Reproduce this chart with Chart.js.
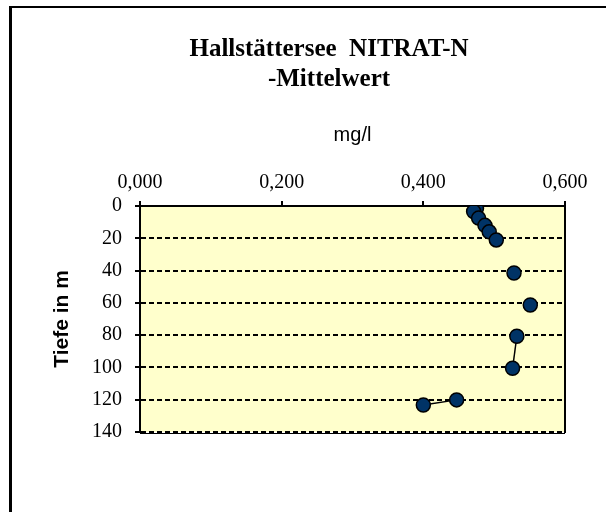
<!DOCTYPE html>
<html><head><meta charset="utf-8">
<script src="https://cdn.jsdelivr.net/npm/chart.js@4.4.1/dist/chart.umd.min.js"></script>
<style>
html,body{margin:0;padding:0;background:#fff;}
#wrap{position:relative;width:606px;height:512px;overflow:hidden;}
#frame{position:absolute;left:9px;top:6px;width:700px;height:600px;border-top:2px solid #000;border-left:3px solid #000;}
#c{position:absolute;left:0;top:0;}
</style></head><body>
<div id="wrap"><div id="frame"></div><canvas id="c" width="606" height="512"></canvas></div>
<script>
// Data
const nitrateMgL = [0.475, 0.471, 0.478, 0.487, 0.493, 0.503, 0.528, 0.551, 0.532, 0.526, 0.447, 0.400];
const depthM     = [1.5, 3.4, 7.5, 12, 16, 21, 41.5, 61.3, 80.7, 100.5, 120.1, 123.3];
const lineGroup  = [0, 0, 0, 0, 0, 0, 1, 2, 3, 3, 4, 4];
const xTickValues = [0, 0.2, 0.4, 0.6];
const yTickValues = [0, 20, 40, 60, 80, 100, 120, 140];
const titleLines = ['Hallstättersee  NITRAT-N', '-Mittelwert'];
const xAxisTitle = 'mg/l';
const yAxisTitle = 'Tiefe in m';

const points = nitrateMgL.map((v, i) => ({x: v, y: depthM[i]}));

const plotFrame = {
  id: 'plotFrame',
  beforeDraw(chart) {
    const {ctx, chartArea: a} = chart;
    ctx.save();
    ctx.fillStyle = '#FFFFCC';
    ctx.fillRect(a.left, a.top, a.right - a.left, a.bottom - a.top);
    ctx.restore();
  },
  beforeDatasetsDraw(chart) {
    const {ctx, chartArea: a} = chart;
    ctx.save();
    ctx.strokeStyle = '#000';
    ctx.lineWidth = 2;
    ctx.beginPath();
    ctx.moveTo(a.right, a.top);
    ctx.lineTo(a.right, a.bottom + 1);
    ctx.stroke();
    ctx.lineWidth = 1;
    ctx.beginPath();
    ctx.moveTo(a.left, a.bottom + 1.5);
    ctx.lineTo(a.right, a.bottom + 1.5);
    ctx.stroke();
    ctx.restore();
  }
};

new Chart(document.getElementById('c'), {
  type: 'scatter',
  data: {
    datasets: [{
      data: points,
      showLine: true,
      borderColor: '#000',
      borderWidth: 1.5,
      segment: {
        borderColor: ctx => lineGroup[ctx.p0DataIndex] === lineGroup[ctx.p1DataIndex] ? '#000' : 'rgba(0,0,0,0)'
      },
      pointRadius: 7,
      pointHoverRadius: 7,
      pointBackgroundColor: '#003366',
      pointBorderColor: '#000',
      pointBorderWidth: 1.5
    }]
  },
  options: {
    responsive: false,
    animation: false,
    devicePixelRatio: 1,
    layout: {padding: {left: 93, right: 41, top: 0, bottom: 80}},
    plugins: {
      legend: {display: false},
      tooltip: {enabled: false},
      title: {
        display: true,
        text: titleLines,
        color: '#000',
        font: {family: 'Liberation Serif', size: 25, weight: 'bold', lineHeight: 1.2},
        padding: {top: 34.5, bottom: 21.5}
      }
    },
    scales: {
      x: {
        type: 'linear',
        position: 'top',
        min: 0, max: 0.6,
        afterBuildTicks: s => { s.ticks = xTickValues.map(v => ({value: v})); },
        afterFit: s => { s.height = 90; },
        ticks: {
          color: '#000',
          padding: 6,
          font: {family: 'Liberation Serif', size: 20},
          callback: v => Number(v).toFixed(3).replace('.', ',')
        },
        grid: {drawOnChartArea: false, drawTicks: true, tickLength: 5, color: '#000', lineWidth: 2},
        border: {display: true, color: '#000', width: 2},
        title: {
          display: true, text: xAxisTitle, color: '#000',
          font: {family: 'Liberation Sans', size: 20, lineHeight: 1.2},
          padding: {top: 7, bottom: 0}
        }
      },
      y: {
        type: 'linear',
        reverse: true,
        min: 0, max: 140,
        afterBuildTicks: s => { s.ticks = yTickValues.map(v => ({value: v})); },
        afterFit: s => { s.width = 47; },
        ticks: {
          color: '#000',
          padding: 13,
          font: {family: 'Liberation Serif', size: 20}
        },
        grid: {
          color: '#000', lineWidth: 2,
          drawTicks: true, tickLength: 5, tickColor: '#000', tickWidth: 2, tickBorderDash: []
        },
        border: {display: true, color: '#000', width: 2, dash: [5, 3]},
        title: {
          display: true, text: yAxisTitle, color: '#000',
          font: {family: 'Liberation Sans', size: 21, weight: 'bold', lineHeight: 1.2},
          padding: {top: -43.6, bottom: 0}
        }
      }
    }
  },
  plugins: [plotFrame]
});
</script>
</body></html>
